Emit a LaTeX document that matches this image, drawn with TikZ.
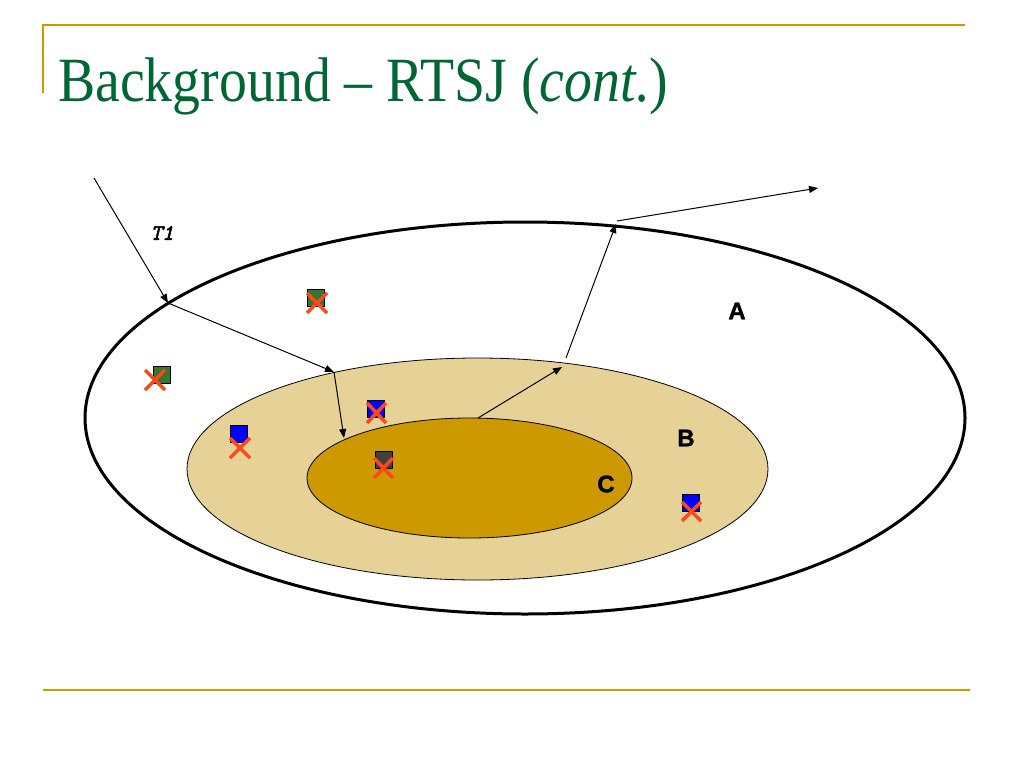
\documentclass[tikz,border=0pt]{standalone}
\usepackage{fontspec}
\setmainfont{Liberation Serif}
\newfontfamily\heavyfont[FakeBold=1.3]{Liberation Sans Bold}
\newfontfamily\heavymono[FakeBold=2.5]{Latin Modern Mono}
\usetikzlibrary{arrows.meta,shapes.geometric}
\definecolor{gold}{RGB}{204,153,0}
\definecolor{titlegreen}{RGB}{0,102,51}
\definecolor{tanB}{RGB}{230,209,150}
\definecolor{goldC}{RGB}{204,153,0}
\definecolor{sqgreen}{RGB}{56,118,48}
\definecolor{sqblue}{RGB}{0,0,255}
\definecolor{sqgray}{RGB}{64,64,64}
\definecolor{crossred}{RGB}{255,72,24}
\begin{document}
\begin{tikzpicture}[x=1pt,y=-1pt,
  rule/.style={draw=gold,line width=2.2pt},
  flow/.style={draw=black,line width=1pt,-{Triangle[length=9pt,width=7pt]}},
  region/.style={font=\heavyfont\fontsize{24}{24}\selectfont,inner sep=0pt},
  obj/.style={draw=black,line width=0.6pt,minimum size=17pt,inner sep=0pt},
  xmark/.style={draw=crossred,line width=3.5pt},
  oval/.style={shape=ellipse,inner sep=0pt}]
\useasboundingbox (0,0) rectangle (1024,768);
\fill[white] (0,0) rectangle (1024,768);
% header and footer rules
\draw[rule] (43,25) -- (965,25);
\draw[rule] (43,24) -- (43,93);
\draw[rule] (43,690) -- (970,690);
\node[anchor=base west,inner sep=0pt,text=titlegreen] (title) at (58,101)
  {\scalebox{0.93}[1.05]{\fontsize{60}{60}\selectfont Background -- RTSJ (\textit{cont.})}};
% ellipses
\node[oval,draw=black,line width=3pt,minimum width=880pt,minimum height=392pt] (A) at (525,418) {};
\node[oval,draw=black,line width=0.8pt,fill=tanB,minimum width=581pt,minimum height=222pt] (B) at (477.5,469) {};
\node[oval,draw=black,line width=0.8pt,fill=goldC,minimum width=325pt,minimum height=120pt] (C) at (469.5,478) {};
% labels
\node[region] (lA) at (737,311) {A};
\node[region] (lB) at (686,438) {B};
\node[region] (lC) at (606,484) {C};
\node[inner sep=0pt,font=\heavymono\itshape\fontsize{22}{22}\selectfont] (lT) at (162,233) {T1};
% path points
\coordinate (p0) at (94,178);
\coordinate (p1) at (168,303);
\coordinate (p2) at (334,372);
\coordinate (p3) at (344,438);
\coordinate (q0) at (478,418);
\coordinate (q1) at (562,367);
\coordinate (q2) at (566,358);
\coordinate (q3) at (616,224);
\coordinate (q4) at (617,221);
\coordinate (q5) at (818,188);
\draw[flow] (p0) -- (p1);
\draw[flow] (p1) -- (p2);
\draw[flow] (p2) -- (p3);
\draw[flow] (q0) -- (q1);
\draw[flow] (q2) -- (q3);
\draw[flow] (q4) -- (q5);
% objects with crosses
\node[obj,fill=sqgreen] (o1) at (316,298) {};
\draw[xmark] (307,293) -- (327,313) (327,293) -- (307,313);
\node[obj,fill=sqgreen] (o2) at (162,375) {};
\draw[xmark] (145,370) -- (165,390) (165,370) -- (145,390);
\node[obj,fill=sqblue] (o3) at (376,409) {};
\draw[xmark] (367,403) -- (386,423) (386,403) -- (367,423);
\node[obj,fill=sqgray] (o4) at (384,460) {};
\draw[xmark] (374,458) -- (393,478) (393,458) -- (374,478);
\node[obj,fill=sqblue] (o5) at (239,434) {};
\draw[xmark] (230,438) -- (250,458) (250,438) -- (230,458);
\node[obj,fill=sqblue] (o6) at (691,503) {};
\draw[xmark] (682,502) -- (701,521) (701,502) -- (682,521);
\end{tikzpicture}
\end{document}
